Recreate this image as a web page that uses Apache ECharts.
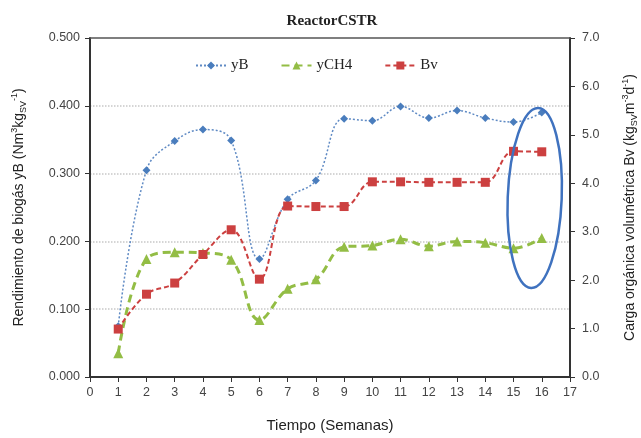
<!DOCTYPE html>
<html>
<head>
<meta charset="utf-8">
<script src="https://cdn.jsdelivr.net/npm/echarts@6/dist/echarts.min.js"></script>
<style>
    html, body { margin: 0; padding: 0; background: #fff; }
    #chart { width: 641px; height: 438px; }
</style>
</head>
<body>
<div id="chart"></div>
<script>
// semanas
var weeks = [1, 2, 3, 4, 5, 6, 7, 8, 9, 10, 11, 12, 13, 14, 15, 16];
// rendimiento de biogas (eje izq.)
var yB = [0.075, 0.305, 0.348, 0.365, 0.349, 0.174, 0.262, 0.290, 0.381, 0.378, 0.399, 0.382, 0.393, 0.382, 0.376, 0.390];
var yCH4 = [0.035, 0.174, 0.184, 0.183, 0.173, 0.084, 0.130, 0.144, 0.192, 0.194, 0.203, 0.193, 0.200, 0.198, 0.190, 0.205];
// carga organica volumetrica (eje der.)
var Bv = [0.99, 1.71, 1.94, 2.53, 3.04, 2.02, 3.53, 3.52, 3.52, 4.03, 4.03, 4.02, 4.02, 4.02, 4.66, 4.65];

var fontSans = 'Liberation Sans, Arial, sans-serif';
var fontSerif = 'Liberation Serif, Times New Roman, serif';

function pairs(xs, ys) {
    return xs.map(function (x, i) { return [x, ys[i]]; });
}

var chart = echarts.init(document.getElementById('chart'));

var nameRich = {
    n: { fontSize: 14, fontFamily: fontSans, color: '#222', lineHeight: 18 },
    sup: { fontSize: 9, fontFamily: fontSans, color: '#222', verticalAlign: 'top', lineHeight: 18 },
    sub: { fontSize: 9, fontFamily: fontSans, color: '#222', verticalAlign: 'bottom', lineHeight: 14 }
};

var option = {
    backgroundColor: '#fff',
    animation: false,
    title: {
        text: 'ReactorCSTR',
        left: 327,
        textAlign: 'center',
        top: 9,
        textStyle: { fontFamily: fontSerif, fontWeight: 'bold', fontSize: 15, color: '#222' }
    },
    legend: {
        left: 190,
        top: 53,
        itemWidth: 30,
        itemHeight: 10,
        itemGap: 32,
        textStyle: { fontFamily: fontSerif, fontSize: 15, color: '#222' },
        data: ['yB', 'yCH4', 'Bv']
    },
    grid: {
        left: 90, right: 71, top: 38, bottom: 61,
        outerBoundsMode: 'none',
        containLabel: false
    },
    xAxis: [{
        type: 'value',
        min: 0, max: 17, interval: 1,
        name: 'Tiempo (Semanas)',
        nameLocation: 'middle',
        nameGap: 41,
        nameTextStyle: { fontFamily: fontSans, fontSize: 15, color: '#222' },
        axisLine: { onZero: false, lineStyle: { color: '#333', width: 2 } },
        axisTick: { inside: false, length: 5, lineStyle: { color: '#333' } },
        axisLabel: { fontFamily: fontSans, fontSize: 12.5, color: '#444', margin: 9 },
        splitLine: { show: false }
    }, {
        // borde superior del area de trazado
        type: 'value',
        position: 'top',
        min: 0, max: 17,
        axisLine: { show: true, onZero: false, lineStyle: { color: '#555', width: 1.5 } },
        axisTick: { show: false },
        axisLabel: { show: false },
        splitLine: { show: false }
    }],
    yAxis: [{
        type: 'value',
        min: 0, max: 0.5, interval: 0.1,
        name: '{n|Rendimiento de biogás yB (Nm}{sup|3}{n|kg}{sub|SV}{sup|-1}{n|)}',
        nameLocation: 'middle',
        nameRotate: 90,
        nameGap: 62,
        nameTextStyle: { rich: nameRich },
        axisLine: { show: true, onZero: false, lineStyle: { color: '#333', width: 2 } },
        axisTick: { show: true, length: 5, lineStyle: { color: '#333' } },
        axisLabel: {
            fontFamily: fontSans, fontSize: 12.5, color: '#444', margin: 10,
            formatter: function (v) { return v.toFixed(3); }
        },
        splitLine: {
            show: true, showMinLine: false, showMaxLine: false,
            lineStyle: { color: '#c8c8c8', type: 'dotted', width: 1.5 }
        }
    }, {
        type: 'value',
        position: 'right',
        min: 0, max: 7, interval: 1,
        name: '{n|Carga orgánica volumétrica Bv (kg}{sub|SV}{n|m}{sup|-3}{n|d}{sup|-1}{n|)}',
        nameLocation: 'middle',
        nameRotate: 90,
        nameGap: 51,
        nameTextStyle: { rich: nameRich },
        axisLine: { show: true, onZero: false, lineStyle: { color: '#333', width: 2 } },
        axisTick: { show: true, length: 5, lineStyle: { color: '#333' } },
        axisLabel: {
            fontFamily: fontSans, fontSize: 12.5, color: '#444', margin: 12,
            formatter: function (v) { return v.toFixed(1); }
        },
        splitLine: { show: false }
    }],
    series: [{
        name: 'yB',
        type: 'line',
        smooth: 0.4,
        data: pairs(weeks, yB),
        symbol: 'diamond',
        symbolSize: 8,
        itemStyle: { color: '#4a7dbd' },
        lineStyle: { color: '#5f8ac4', width: 1.5, type: [2, 2] },
        z: 3
    }, {
        name: 'yCH4',
        type: 'line',
        smooth: 0.4,
        data: pairs(weeks, yCH4),
        symbol: 'triangle',
        symbolSize: 10,
        itemStyle: { color: '#93bd45' },
        lineStyle: { color: '#93bd45', width: 3, type: [8, 5] },
        z: 2
    }, {
        name: 'Bv',
        type: 'line',
        yAxisIndex: 1,
        smooth: 0.4,
        data: pairs(weeks, Bv),
        symbol: 'rect',
        symbolSize: 9,
        itemStyle: { color: '#cc4040' },
        lineStyle: { color: '#cc4040', width: 2, type: [5, 3] },
        z: 4
    }]
};

chart.setOption(option);

// elipse de resaltado alrededor de las semanas 15-16
var c = chart.convertToPixel({ xAxisIndex: 0, yAxisIndex: 0 }, [15.75, 0.264]);
chart.setOption({
    graphic: [{
        type: 'ellipse',
        shape: { cx: c[0], cy: c[1], rx: 27, ry: 90 },
        rotation: -0.04,
        originX: c[0], originY: c[1],
        style: { fill: 'none', stroke: '#3f72bf', lineWidth: 2.5 },
        z: 10
    }]
});
</script>
</body>
</html>
